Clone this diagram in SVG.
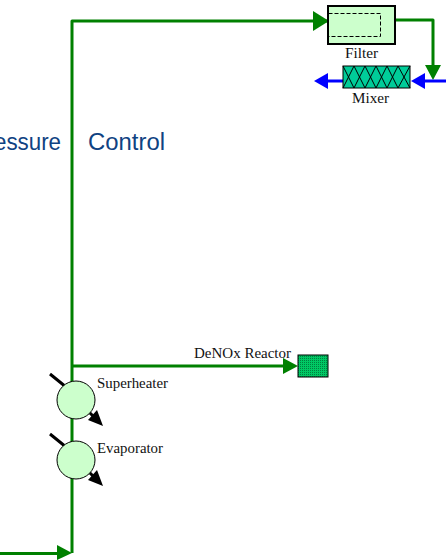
<svg xmlns="http://www.w3.org/2000/svg" width="446" height="560" viewBox="0 0 446 560">
<style>
.g{fill:none;stroke:#008000;stroke-width:3;stroke-linejoin:round}
.ga{fill:#008000}
.b{fill:none;stroke:#0000ff;stroke-width:3}
.ba{fill:#0000ff}
.k{fill:none;stroke:#000;stroke-width:3}
.t{font-family:"Liberation Serif",serif;font-size:14px;fill:#111}
.c{font-family:"Liberation Sans",Arial,sans-serif;font-size:23.500px;fill:#0f4282}
.eq{fill:#ccffcc;stroke:#000;stroke-width:1}
</style>
<defs>
<pattern id="h" width="2" height="2" patternUnits="userSpaceOnUse"><rect width="2" height="2" fill="#00c864"/><rect width="1" height="1" fill="#008040"/></pattern>
</defs>
<g id="connectors">
<path class="g" d="M72 553V21H328"/>
<path class="ga" d="M313 11V31L329 21Z"/>
<path class="g" d="M396 20H433V70"/>
<path class="ga" d="M425 65H441L433 80Z"/>
<path class="g" d="M72 366H288"/>
<path class="ga" d="M283 358L298 366L283 374Z"/>
<path class="g" d="M0 553.500H60"/>
<path class="ga" d="M57 545L72 553L57 560Z"/>
<path class="b" d="M446 81H424"/>
<path class="ba" d="M411 81L425 73V89Z"/>
<path class="b" d="M343 81H325"/>
<path class="ba" d="M314 81L328 73V89Z"/>
<path class="k" d="M50 374L66 387M88 411L94 417"/>
<path d="M103 426L88 420L97 410Z"/>
<path class="k" d="M50 434L66 447M88 471L94 477"/>
<path d="M103 486L88 480L97 470Z"/>
</g>
<g id="filter">
<rect x="328" y="6" width="67" height="38" fill="#ccffcc" stroke="#000" stroke-width="2"/>
<rect x="328.500" y="13.500" width="52" height="23" fill="none" stroke="#000" stroke-dasharray="4 2"/>
<text class="t" x="345" y="58" textLength="33" lengthAdjust="spacingAndGlyphs">Filter</text>
</g>
<g id="mixer">
<rect x="343" y="66" width="67" height="22" fill="#00cc99" stroke="#000"/>
<path d="M343 66L354 88L365 66L376 88L387 66L398 88L410 66M343 88L354 66L365 88L376 66L387 88L398 66L410 88" fill="none" stroke="#000" stroke-width="1"/>
<text class="t" x="352" y="103" textLength="37" lengthAdjust="spacingAndGlyphs">Mixer</text>
</g>
<g id="denox-reactor">
<rect x="298" y="355" width="30" height="22" fill="url(#h)" stroke="#000"/>
<text class="t" x="194" y="358" textLength="97" lengthAdjust="spacingAndGlyphs">DeNOx Reactor</text>
</g>
<g id="superheater">
<circle class="eq" cx="76" cy="400" r="19"/>
<text class="t" x="97" y="388" textLength="71" lengthAdjust="spacingAndGlyphs">Superheater</text>
</g>
<g id="evaporator">
<circle class="eq" cx="76" cy="460" r="19"/>
<text class="t" x="97" y="453" textLength="66" lengthAdjust="spacingAndGlyphs">Evaporator</text>
</g>
<g id="labels">
<text class="c" x="-6" y="150" textLength="67" lengthAdjust="spacingAndGlyphs">essure</text>
<text class="c" x="88" y="150" textLength="77" lengthAdjust="spacingAndGlyphs">Control</text>
</g>
</svg>
